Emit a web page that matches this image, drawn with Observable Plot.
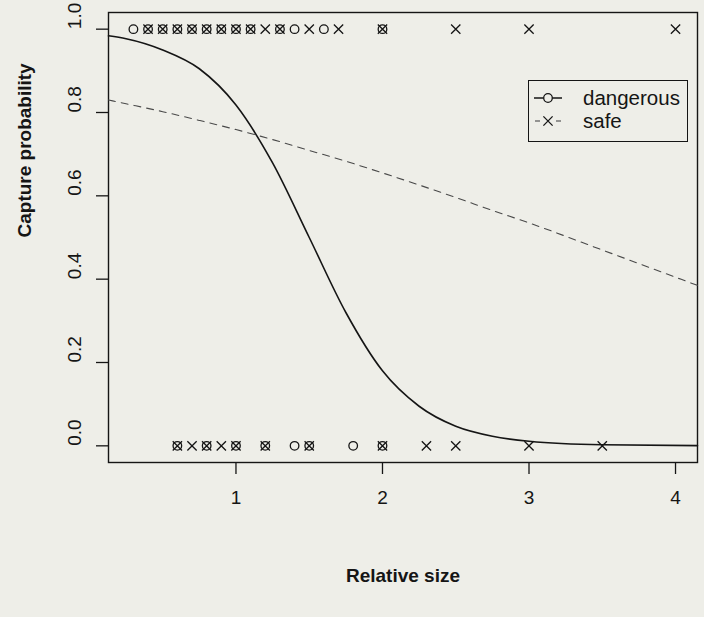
<!DOCTYPE html>
<html><head><meta charset="utf-8">
<script src="https://cdn.jsdelivr.net/npm/d3@7"></script>
<script src="https://cdn.jsdelivr.net/npm/@observablehq/plot@0.6"></script>
<style>
html,body{margin:0;padding:0;background:#eeeee8;}
#wrap{position:relative;width:704px;height:617px;font-family:"Liberation Sans",Arial,Helvetica,sans-serif;color:#151515;}
#legend{position:absolute;left:528px;top:80px;width:160px;height:62px;border:1.3px solid #151515;box-sizing:border-box;}
.row{position:absolute;left:0;height:22px;display:flex;align-items:center;font-size:20.5px;}
.row svg{display:block;}
.row span{margin-left:18px;}
</style></head><body><div id="wrap"></div>
<script>
// observations: relative size of prey, captured (1) or not captured (0)
const dangerousCapturedX = [0.3,0.4,0.5,0.6,0.7,0.8,0.9,1.0,1.1,1.3,1.4,1.6,2.0];
const safeCapturedX = [0.4,0.5,0.6,0.7,0.8,0.9,1.0,1.1,1.2,1.3,1.5,1.7,2.0,2.5,3.0,4.0];
const dangerousEscapedX = [0.6,0.8,1.0,1.2,1.4,1.5,1.8,2.0];
const safeEscapedX = [0.6,0.7,0.8,0.9,1.0,1.2,1.5,2.0,2.3,2.5,3.0,3.5];
// fitted curves
const curveX = [0.13,0.25,0.5,0.75,1.0,1.25,1.5,1.75,2.0,2.25,2.5,2.75,3.0,3.5,4.15];
const dangerousCurve = [0.984,0.977,0.95,0.905,0.818,0.679,0.50,0.32,0.18,0.095,0.047,0.023,0.011,0.0025,0.0004];
const safeCurve = [0.83,0.821,0.802,0.781,0.759,0.735,0.709,0.683,0.655,0.626,0.596,0.565,0.535,0.47,0.385];
const xTicks = [1,2,3,4];
const yTicks = [0,0.2,0.4,0.6,0.8,1.0];
const legendLabels = ["dangerous","safe"];

const circles = [
  ...dangerousCapturedX.map(x => ({x, y: 1})),
  ...dangerousEscapedX.map(x => ({x, y: 0}))
];
const crosses = [
  ...safeCapturedX.map(x => ({x, y: 1})),
  ...safeEscapedX.map(x => ({x, y: 0}))
];
const dCurve = curveX.map((x, i) => ({x, y: dangerousCurve[i]}));
const sCurve = curveX.map((x, i) => ({x, y: safeCurve[i]}));

const ink = "#151515";
const chart = Plot.plot({
  width: 704, height: 617,
  marginLeft: 108, marginRight: 7, marginTop: 12, marginBottom: 155,
  x: {domain: [0.13, 4.15]},
  y: {domain: [-0.04, 1.04]},
  style: {background: "transparent", fontFamily: "'Liberation Sans', Arial, sans-serif", color: ink},
  marks: [
    Plot.frame({stroke: ink, strokeWidth: 1.4}),
    Plot.axisX({ticks: xTicks, tickSize: 12, tickPadding: 16, fontSize: 19, label: null, tickFormat: d => String(d), stroke: ink, strokeWidth: 1.3}),
    Plot.axisY({ticks: yTicks, tickSize: 12, label: null, tickFormat: () => "", stroke: ink, strokeWidth: 1.3}),
    Plot.text(yTicks, {y: d => d, frameAnchor: "left", dx: -34, rotate: -90, text: d => d.toFixed(1), fontSize: 19, lineAnchor: "middle", fill: ink}),
    Plot.text(["Capture probability"], {frameAnchor: "left", dx: -84, rotate: -90, fontSize: 19, fontWeight: "bold", lineAnchor: "middle", fill: ink}),
    Plot.text(["Relative size"], {frameAnchor: "bottom", dy: 113, fontSize: 19, fontWeight: "bold", lineAnchor: "middle", fill: ink}),
    Plot.line(sCurve, {x: "x", y: "y", curve: "monotone-x", stroke: "#4a4a4a", strokeWidth: 1.1, strokeDasharray: "7,6"}),
    Plot.line(dCurve, {x: "x", y: "y", curve: "monotone-x", stroke: ink, strokeWidth: 1.6}),
    Plot.dot(circles, {x: "x", y: "y", r: 4.3, stroke: ink, strokeWidth: 1.3, fill: "none"}),
    Plot.dot(crosses, {x: "x", y: "y", r: 4.3, symbol: "times", stroke: ink, strokeWidth: 1.3})
  ]
});
const wrap = document.getElementById("wrap");
wrap.appendChild(chart);

// legend
const legend = document.createElement("div");
legend.id = "legend";
legendLabels.forEach((lab, i) => {
  const row = document.createElement("div");
  row.className = "row";
  row.style.top = (6 + i * 23) + "px";
  const dashed = i === 1;
  const sym = i === 0
    ? `<circle cx="17" cy="11" r="4.3" fill="none" stroke="${ink}" stroke-width="1.3"/>`
    : `<path d="M12.4,6.4L21.6,15.6M12.4,15.6L21.6,6.4" stroke="${ink}" stroke-width="1.3"/>`;
  const line = dashed
    ? `<line x1="4" x2="9" y1="11" y2="11" stroke="#4a4a4a" stroke-width="1.1"/><line x1="25" x2="30" y1="11" y2="11" stroke="#4a4a4a" stroke-width="1.1"/>`
    : `<line x1="3" x2="12.7" y1="11" y2="11" stroke="${ink}" stroke-width="1.5"/><line x1="21.3" x2="31" y1="11" y2="11" stroke="${ink}" stroke-width="1.5"/>`;
  row.innerHTML = `<svg width="34" height="22">${line}${sym}</svg><span>${lab}</span>`;
  row.style.left = "2px";
  legend.appendChild(row);
});
wrap.appendChild(legend);
</script>
</body></html>
